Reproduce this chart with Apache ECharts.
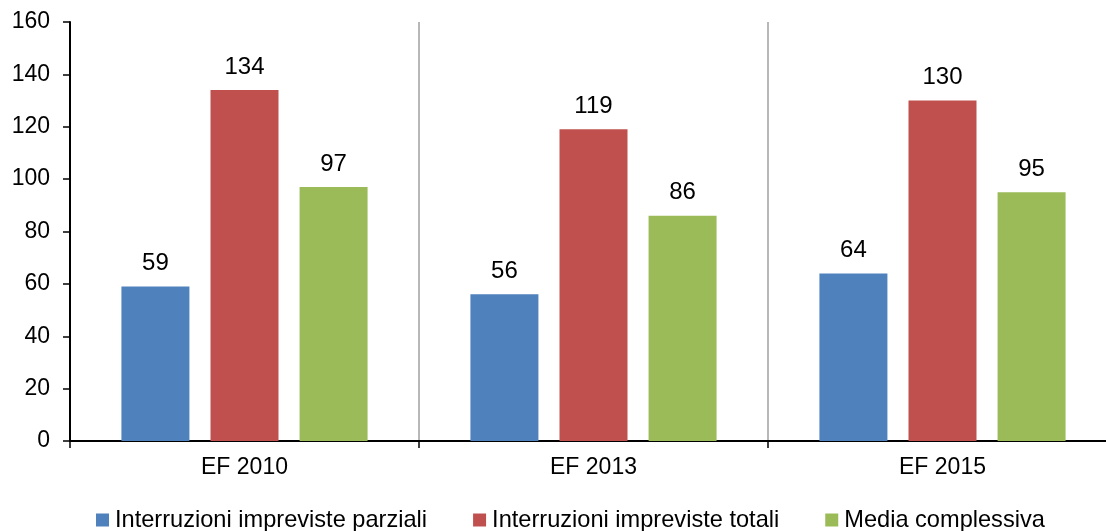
<!DOCTYPE html>
<html><head><meta charset="utf-8">
<script src="https://cdn.jsdelivr.net/npm/echarts@6/dist/echarts.min.js"></script>
<style>html,body{margin:0;padding:0;background:#fff}#c{width:1106px;height:531px}</style>
</head><body><div id="c"></div>
<script>
const categories = ['EF 2010', 'EF 2013', 'EF 2015'];
const seriesNames = ['Interruzioni impreviste parziali', 'Interruzioni impreviste totali', 'Media complessiva'];
const parziali = [59, 56, 64];
const totali = [134, 119, 130];
const media = [97, 86, 95];
const yTicks = { min: 0, max: 160, interval: 20 };

const colors = ['#4F81BD', '#C0504D', '#9BBB59'];
const font = 'Liberation Sans, Arial, sans-serif';
const chart = echarts.init(document.getElementById('c'));
const mk = (name, data, i) => ({
  name, type: 'bar', data, barWidth: 68, barGap: '31%',
  itemStyle: { color: colors[i] },
  label: { show: true, position: 'top', distance: 11, color: '#000', fontSize: 24, fontFamily: font }
});
chart.setOption({
  animation: false,
  grid: { left: 70, width: 1047, top: 22, bottom: 90, containLabel: false, outerBoundsMode: 'none' },
  legend: {
    left: 96, top: 508, padding: 0, itemWidth: 13, itemHeight: 13, itemGap: 46, icon: 'rect',
    textStyle: { fontSize: 23.6, fontFamily: font, color: '#000', padding: [0, 0, 0, 1] },
    data: seriesNames
  },
  xAxis: {
    type: 'category', data: categories, boundaryGap: true,
    axisLine: { lineStyle: { color: '#000', width: 2 } },
    axisTick: { show: true, length: 7, lineStyle: { color: '#000', width: 1.5 } },
    axisLabel: { fontSize: 23, fontFamily: font, color: '#000', margin: 15 },
    splitLine: { show: true, lineStyle: { color: '#a0a0a0', width: 1.5 } }
  },
  yAxis: {
    type: 'value', min: yTicks.min, max: yTicks.max, interval: yTicks.interval,
    axisLine: { show: true, lineStyle: { color: '#000', width: 2 } },
    axisTick: { show: true, length: 7, lineStyle: { color: '#000', width: 1.5 } },
    axisLabel: { fontSize: 23, fontFamily: font, color: '#000', margin: 20 },
    splitLine: { show: false }
  },
  series: [mk(seriesNames[0], parziali, 0), mk(seriesNames[1], totali, 1), mk(seriesNames[2], media, 2)]
});
</script></body></html>
